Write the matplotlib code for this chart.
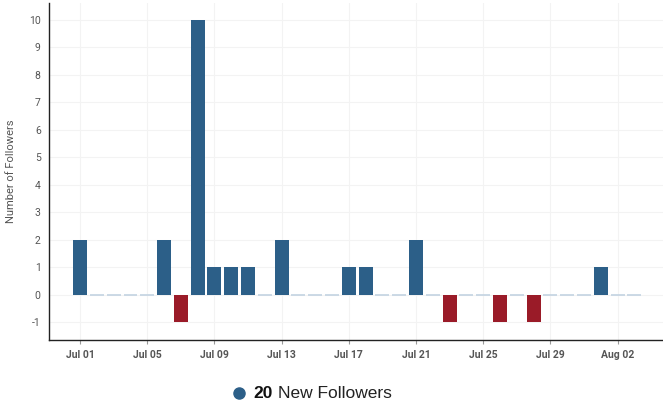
import matplotlib
matplotlib.use("Agg")
import matplotlib.pyplot as plt
from matplotlib.lines import Line2D
import numpy as np

dates = ["Jul 01","Jul 02","Jul 03","Jul 04","Jul 05","Jul 06","Jul 07","Jul 08","Jul 09","Jul 10",
         "Jul 11","Jul 12","Jul 13","Jul 14","Jul 15","Jul 16","Jul 17","Jul 18","Jul 19","Jul 20",
         "Jul 21","Jul 22","Jul 23","Jul 24","Jul 25","Jul 26","Jul 27","Jul 28","Jul 29","Jul 30",
         "Jul 31","Aug 01","Aug 02","Aug 03"]
followers = [2,0,0,0,0,2,-1,10,1,1,
             1,0,2,0,0,0,1,1,0,0,
             2,0,-1,0,0,-1,0,-1,0,0,
             0,1,0,0]
tick_labels = ["Jul 01","Jul 05","Jul 09","Jul 13","Jul 17","Jul 21","Jul 25","Jul 29","Aug 02"]
y_ticks = [-1,0,1,2,3,4,5,6,7,8,9,10]
total_label = "20"

plt.rcParams['font.family'] = ['Roboto', 'DejaVu Sans']

fig = plt.figure(figsize=(6.63, 4.04), dpi=100)
ax = fig.add_axes([49/663, 1-340/404, 1-49/663, 337/404])

x = np.arange(len(followers))
vals = np.array(followers)
blue = "#2c5f88"
red = "#9a1b28"
colors = [blue if v > 0 else red for v in vals]
nz = vals != 0
ax.bar(x[nz], vals[nz], width=0.83, color=np.array(colors)[nz], zorder=3)
# zero days as thin light lines
for xi in x[~nz]:
    ax.plot([xi-0.415, xi+0.415], [0, 0], color="#c3d3e2", lw=1.2, zorder=3, solid_capstyle='butt')

ax.set_xlim(-1.85, 34.7)
ax.set_ylim(-1.65, 10.6)
tick_pos = [dates.index(t) for t in tick_labels]
ax.set_xticks(tick_pos)
ax.set_xticklabels(tick_labels, fontsize=7.5, fontweight='bold', color="#555555")
ax.set_yticks(y_ticks)
ax.set_yticklabels([str(v) for v in y_ticks], fontsize=7.5, color="#555555")
ax.tick_params(axis='x', length=3, color="#999999", pad=4)
ax.tick_params(axis='y', length=0, pad=6)
ax.grid(True, color="#f3f3f3", lw=0.8, zorder=0)
ax.set_axisbelow(True)
for s in ["top", "right"]:
    ax.spines[s].set_visible(False)
ax.spines["left"].set_color("#222222")
ax.spines["bottom"].set_color("#222222")
ax.spines["left"].set_linewidth(1.0)
ax.spines["bottom"].set_linewidth(1.0)
ax.set_ylabel("Number of Followers", fontsize=8, color="#555555", labelpad=9)

# legend-like footer
fig.add_artist(Line2D([239/663], [1-393/404], marker='o', markersize=8, color=blue,
                      transform=fig.transFigure, linestyle='None'))
fig.text(253/663, 1-393/404, total_label, fontsize=12.5, fontweight='bold', color="#111111",
         va='center', ha='left', family=['Liberation Sans', 'DejaVu Sans'])
fig.text(278/663, 1-393/404, "New Followers", fontsize=12.5, color="#222222",
         va='center', ha='left', family=['Liberation Sans', 'DejaVu Sans'])

fig.savefig("out.png", dpi=100)
